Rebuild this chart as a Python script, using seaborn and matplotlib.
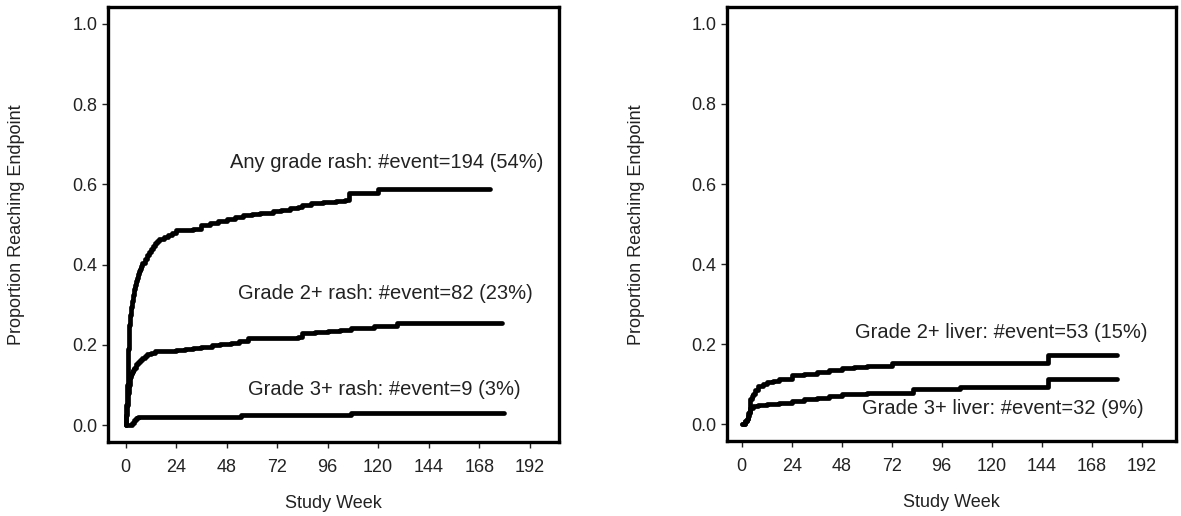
import numpy as np
import pandas as pd
import seaborn as sns
import matplotlib
matplotlib.use("Agg")
import matplotlib.pyplot as plt

# cumulative incidence (week, proportion)
rash_any_wk = [0, 0.3, 0.6, 0.9, 1.2, 1.5, 1.8, 2.2, 2.6, 3, 3.5, 4, 4.5, 5, 5.5, 6, 6.5, 7, 7.5, 8, 9, 10, 11, 12, 13, 14, 15, 16, 18, 20, 22, 24,
               28, 32, 36, 40, 44, 48, 52, 56, 60, 64, 70, 74, 78, 82, 84, 88, 94, 100, 104, 106, 112, 120, 173]
rash_any_p = [0, 0.05, 0.1, 0.15, 0.19, 0.22, 0.25, 0.275, 0.295, 0.31, 0.325, 0.34, 0.35, 0.36, 0.368, 0.376, 0.383, 0.39, 0.397, 0.405, 0.415, 0.425, 0.432, 0.44, 0.447, 0.453, 0.458, 0.463, 0.468, 0.473, 0.479, 0.486,
              0.487, 0.49, 0.498, 0.505, 0.509, 0.513, 0.518, 0.524, 0.527, 0.53, 0.533, 0.536, 0.54, 0.544, 0.549, 0.553, 0.556, 0.558, 0.561, 0.578, 0.579, 0.588, 0.588]

rash_g2_wk = [0, 0.3, 0.6, 1, 1.5, 2, 2.5, 3, 3.5, 4, 5, 6, 7, 8, 9, 10, 12, 14, 20, 24, 28, 32, 36, 41, 45, 50, 54, 58, 82, 84, 90, 96, 102, 107, 118, 129, 179]
rash_g2_p = [0, 0.025, 0.05, 0.08, 0.1, 0.12, 0.127, 0.133, 0.138, 0.143, 0.152, 0.158, 0.163, 0.168, 0.173, 0.177, 0.181, 0.184, 0.185, 0.187, 0.19, 0.193, 0.196, 0.2, 0.203, 0.206, 0.21, 0.216, 0.22, 0.229, 0.231, 0.235, 0.238, 0.242, 0.246, 0.254, 0.254]

rash_g3_wk = [0, 3, 4, 5, 6, 55, 107, 180]
rash_g3_p = [0, 0.006, 0.012, 0.017, 0.021, 0.025, 0.031, 0.031]

liver_g2_wk = [0, 1.5, 2.4, 3, 3.4, 4, 4.8, 5.6, 6.5, 8, 10, 12, 15, 18, 24, 30, 36, 42, 48, 54, 60, 72, 147, 180]
liver_g2_p = [0, 0.008, 0.012, 0.02, 0.03, 0.062, 0.07, 0.075, 0.085, 0.096, 0.101, 0.106, 0.109, 0.112, 0.122, 0.126, 0.13, 0.135, 0.141, 0.143, 0.145, 0.154, 0.172, 0.172]

liver_g3_wk = [0, 1.5, 2.4, 3.2, 4, 5.6, 8, 12, 18, 24, 30, 36, 42, 48, 60, 82, 105, 147, 180]
liver_g3_p = [0, 0.008, 0.012, 0.029, 0.04, 0.046, 0.048, 0.05, 0.053, 0.058, 0.062, 0.066, 0.07, 0.076, 0.079, 0.089, 0.094, 0.114, 0.114]

rash_labels = ["Any grade rash: #event=194 (54%)", "Grade 2+ rash: #event=82 (23%)", "Grade 3+ rash: #event=9 (3%)"]
rash_label_xy = [(49.5, 0.655), (53.5, 0.328), (58, 0.088)]
liver_labels = ["Grade 2+ liver: #event=53 (15%)", "Grade 3+ liver: #event=32 (9%)"]
liver_label_xy = [(54.5, 0.228), (57.5, 0.038)]

week_ticks = list(range(0, 193, 24))
prop_ticks = [0.0, 0.2, 0.4, 0.6, 0.8, 1.0]

sns.set_style("ticks")
plt.rcParams['font.family'] = ['Liberation Sans', 'DejaVu Sans']

fig = plt.figure(figsize=(11.81, 5.16), dpi=100)
ax1 = fig.add_axes([0.0914, 0.1434, 0.3819, 0.8421])
ax2 = fig.add_axes([0.6156, 0.1453, 0.3802, 0.8402])

panels = [
    (ax1, [(rash_any_wk, rash_any_p), (rash_g2_wk, rash_g2_p), (rash_g3_wk, rash_g3_p)], rash_labels, rash_label_xy, (-8.4, 205.9)),
    (ax2, [(liver_g2_wk, liver_g2_p), (liver_g3_wk, liver_g3_p)], liver_labels, liver_label_xy, (-7.1, 208.5)),
]

for ax, series, labels, label_xy, xl in panels:
    for wk, p in series:
        df = pd.DataFrame({"week": wk, "prop": p})
        sns.lineplot(data=df, x="week", y="prop", ax=ax, color="black", linewidth=3.4,
                     drawstyle="steps-post", estimator=None, sort=True)
    for txt, (x, y) in zip(labels, label_xy):
        ax.text(x, y, txt, fontsize=14.5, color="#222222", va="center", ha="left")
    ax.set_xlim(*xl)
    ax.set_ylim(-0.042, 1.041)
    ax.set_xticks(week_ticks)
    ax.set_yticks(prop_ticks)
    ax.set_yticklabels([f"{t:.1f}" for t in prop_ticks])
    for s in ax.spines.values():
        s.set_visible(True)
        s.set_linewidth(2.4)
        s.set_color("black")
    ax.tick_params(axis="both", which="major", labelsize=13, length=4.5, width=1.0,
                   colors="#222222", direction="out")
    ax.tick_params(axis="x", pad=8)
    ax.tick_params(axis="y", pad=3)
    ax.set_xlabel("Study Week", fontsize=13, color="#222222")
    ax.set_ylabel("Proportion Reaching Endpoint", fontsize=13, color="#222222")
    ax.xaxis.set_label_coords(0.5, -0.122)
    ax.yaxis.set_label_coords(-0.183, 0.5)

plt.savefig("out.png", dpi=100)
